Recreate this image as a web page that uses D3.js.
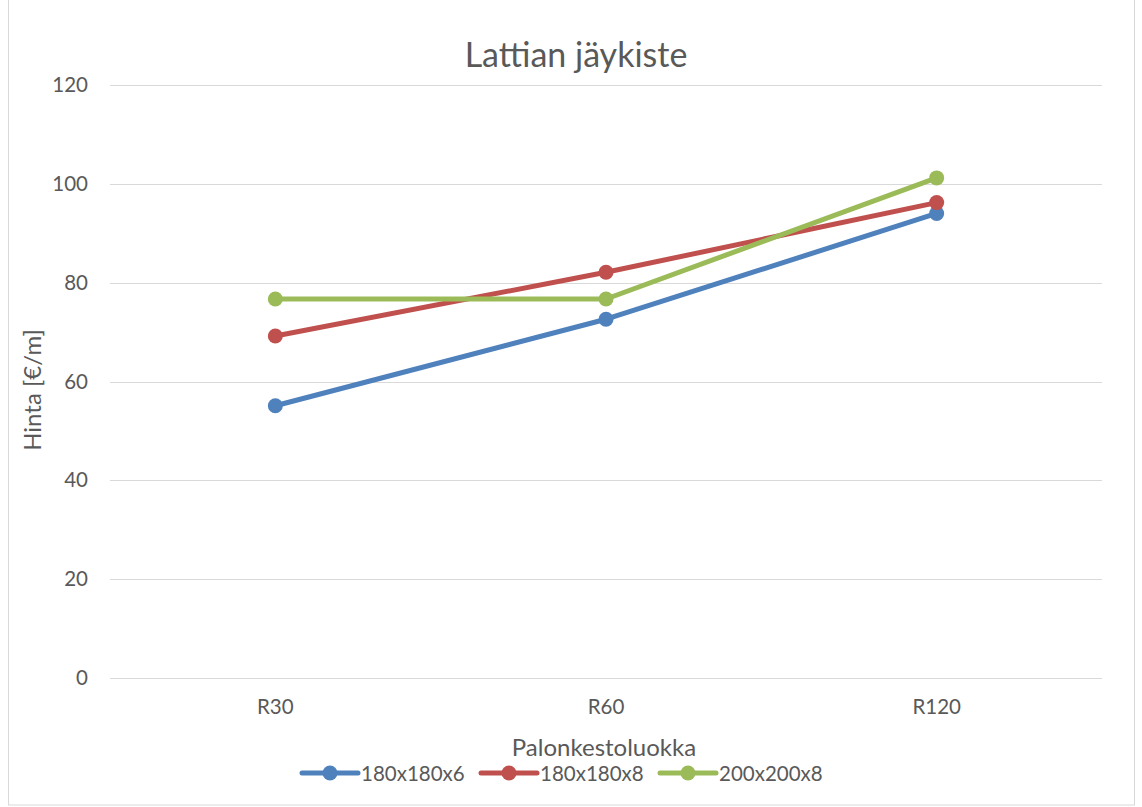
<!DOCTYPE html>
<html>
<head>
<meta charset="utf-8">
<script src="https://cdn.jsdelivr.net/npm/d3@7"></script>
<style>
  html, body { margin: 0; padding: 0; background: #fff; }
  svg { display: block; }
  text { font-family: Lato, "Open Sans", "Liberation Sans", sans-serif; fill: #595959; }
</style>
</head>
<body>
<script>
// Fire resistance classes and price per metre for each profile
const categories = ["R30", "R60", "R120"];
const seriesNames = ["180x180x6", "180x180x8", "200x200x8"];
const valuesA = [55.1, 72.6, 94.0];   // 180x180x6
const valuesB = [69.2, 82.1, 96.2];   // 180x180x8
const valuesC = [76.7, 76.7, 101.2];  // 200x200x8
const yTicks = [0, 20, 40, 60, 80, 100, 120];
const colors = ["#4F81BD", "#C0504D", "#9BBB59"];

const series = seriesNames.map((name, i) => ({
  name,
  values: [valuesA, valuesB, valuesC][i],
  color: colors[i]
}));

const W = 1142, H = 807;
const svg = d3.select("body").append("svg").attr("width", W).attr("height", H);

// chart frame
svg.append("rect")
  .attr("x", 8.5).attr("y", -1).attr("width", 1126).attr("height", 806)
  .attr("fill", "#fff").attr("stroke", "#d9d9d9").attr("stroke-width", 1);

const plot = { left: 110, right: 1102, top: 85, bottom: 678 };

const x = d3.scaleBand().domain(categories).range([plot.left, plot.right]);
const y = d3.scaleLinear().domain([0, 120]).range([plot.bottom, plot.top]);

// horizontal gridlines
svg.append("g")
  .selectAll("line").data(yTicks).join("line")
  .attr("x1", plot.left).attr("x2", plot.right)
  .attr("y1", d => Math.round(y(d)) + 0.5).attr("y2", d => Math.round(y(d)) + 0.5)
  .attr("stroke", "#d9d9d9").attr("stroke-width", 1);

// y axis labels
const yAxis = d3.axisLeft(y).tickValues(yTicks).tickSize(0).tickPadding(0);
const gy = svg.append("g").attr("transform", `translate(${plot.left - 22},0)`).call(yAxis);
gy.select(".domain").remove();
gy.selectAll("text").style("font-size", "20.5px").attr("fill", "#595959")
  .style("font-family", "Lato, 'Open Sans', sans-serif");

// x axis labels
const xAxis = d3.axisBottom(x).tickSize(0).tickPadding(0);
const gx = svg.append("g").attr("transform", `translate(0,${plot.bottom + 21})`).call(xAxis);
gx.select(".domain").remove();
gx.selectAll("text").style("font-size", "20.5px").attr("fill", "#595959")
  .style("font-family", "Lato, 'Open Sans', sans-serif");

// lines and markers
const line = d3.line()
  .x((d, i) => x(categories[i]) + x.bandwidth() / 2)
  .y(d => y(d));

series.forEach(s => {
  const g = svg.append("g");
  g.append("path")
    .attr("d", line(s.values))
    .attr("fill", "none")
    .attr("stroke", s.color)
    .attr("stroke-width", 5)
    .attr("stroke-linejoin", "round")
    .attr("stroke-linecap", "round");
  g.selectAll("circle").data(s.values).join("circle")
    .attr("cx", (d, i) => x(categories[i]) + x.bandwidth() / 2)
    .attr("cy", d => y(d))
    .attr("r", 7.5)
    .attr("fill", s.color);
});

// title
svg.append("text")
  .attr("x", 576).attr("y", 67)
  .attr("text-anchor", "middle")
  .style("font-size", "34px")
  .text("Lattian jäykiste");

// axis titles
svg.append("text")
  .attr("transform", "translate(41,390) rotate(-90)")
  .attr("text-anchor", "middle")
  .style("font-size", "24px")
  .text("Hinta [€/m]");

svg.append("text")
  .attr("x", 604).attr("y", 756)
  .attr("text-anchor", "middle")
  .style("font-size", "24px")
  .text("Palonkestoluokka");

// legend
const legendX = [302, 481, 660];
const legend = svg.append("g");
series.forEach((s, i) => {
  const lg = legend.append("g").attr("transform", `translate(${legendX[i]},773)`);
  lg.append("line").attr("x1", 0).attr("x2", 56).attr("y1", 0).attr("y2", 0)
    .attr("stroke", s.color).attr("stroke-width", 5).attr("stroke-linecap", "round");
  lg.append("circle").attr("cx", 28).attr("cy", 0).attr("r", 7.5).attr("fill", s.color);
  lg.append("text").attr("x", 59).attr("y", 7.5)
    .style("font-size", "20.5px").text(s.name);
});
</script>
</body>
</html>
